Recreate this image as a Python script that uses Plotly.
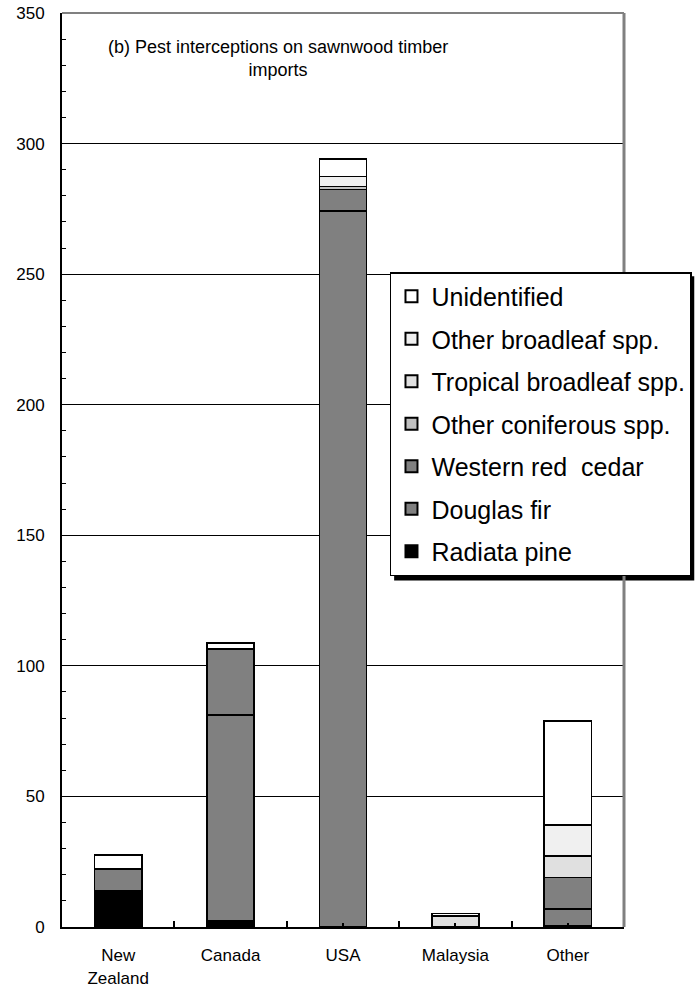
import plotly.graph_objects as go

categories = ["New<br>Zealand", "Canada", "USA", "Malaysia", "Other"]

series_names = ["Radiata pine", "Douglas fir", "Western red  cedar",
                "Other coniferous spp.", "Tropical broadleaf spp.",
                "Other broadleaf spp.", "Unidentified"]

radiata_pine = [13.8, 2.3, 0, 0, 0.6]
douglas_fir = [8.4, 78.9, 274.2, 0, 6.2]
western_red_cedar = [0, 25.3, 8.3, 0, 12.1]
other_coniferous = [0, 0, 1.0, 0, 0]
tropical_broadleaf = [0, 0, 0, 4.2, 8.3]
other_broadleaf = [0, 0, 3.8, 0, 11.9]
unidentified = [5.4, 2.3, 6.7, 1.0, 39.8]

series_values = [radiata_pine, douglas_fir, western_red_cedar, other_coniferous,
                 tropical_broadleaf, other_broadleaf, unidentified]
series_colors = ["#000000", "#808080", "#808080", "#c0c0c0", "#e0e0e0", "#f0f0f0", "#ffffff"]

y_ticks = [0, 50, 100, 150, 200, 250, 300, 350]

fig = go.Figure()
n = len(series_names)
for i, (name, vals, col) in enumerate(zip(series_names, series_values, series_colors)):
    fig.add_trace(go.Bar(
        x=categories, y=vals, name=name, legendgroup=name, legendrank=n - i,
        marker=dict(color=col, line=dict(color="black", width=1.5)),
        width=0.42,
    ))

# invisible trace on a helper axis to get small center ticks
fig.add_trace(go.Bar(x=categories, y=[0]*5, xaxis="x2", showlegend=False,
                     hoverinfo="skip", marker=dict(color="rgba(0,0,0,0)")))

fig.update_layout(
    width=700, height=992,
    margin=dict(l=62, r=76, t=13, b=65, autoexpand=False),
    barmode="stack",
    plot_bgcolor="white", paper_bgcolor="white",
    font=dict(family="Liberation Sans, Arial, sans-serif", color="black"),
    showlegend=True,
    legend=dict(
        x=0.5836, y=0.7166, xanchor="left", yanchor="top",
        traceorder="grouped", tracegroupgap=7,
        font=dict(size=25, color="black"),
        bgcolor="white", bordercolor="black", borderwidth=1.5,
        itemsizing="constant",
    ),
    xaxis=dict(
        type="category", range=[-0.5, 4.5],
        showline=True, linecolor="black", linewidth=2,
        ticks="inside", tickson="boundaries", ticklen=6, tickwidth=1.5, tickcolor="black",
        tickfont=dict(size=17), ticklabelstandoff=12, showgrid=False, zeroline=False,
    ),
    xaxis2=dict(
        type="category", range=[-0.5, 4.5], overlaying="x", matches="x",
        side="bottom", anchor="y",
        ticks="inside", ticklen=4, tickwidth=1.5, tickcolor="black",
        showticklabels=False, showgrid=False, showline=False, zeroline=False,
    ),
    yaxis=dict(
        range=[0, 350], tickvals=y_ticks,
        showline=True, linecolor="black", linewidth=2,
        ticks="inside", ticklen=5, tickwidth=1, tickcolor="black",
        minor=dict(dtick=10, ticks="inside", ticklen=4, tickcolor="black", tickwidth=1, showgrid=False),
        showgrid=True, gridcolor="black", gridwidth=1,
        tickfont=dict(size=17), ticklabelstandoff=12, zeroline=False,
        ticklabeloverflow="allow",
    ),
)

# shadow behind legend
fig.add_shape(type="rect", xref="paper", yref="paper",
              x0=0.591, x1=1.125, y0=0.379, y1=0.712,
              fillcolor="black", line=dict(width=0), layer="above")

# gray top & right frame
fig.add_shape(type="line", xref="paper", yref="paper", x0=0, x1=1, y0=1, y1=1,
              line=dict(color="#808080", width=2))
fig.add_shape(type="line", xref="paper", yref="paper", x0=1, x1=1, y0=0, y1=1,
              line=dict(color="#808080", width=3))

fig.add_annotation(
    text="(b) Pest interceptions on sawnwood timber<br>imports",
    xref="paper", yref="paper", x=0.384, y=0.950, yanchor="middle", showarrow=False,
    font=dict(size=18, color="black"), align="center",
)

fig.write_html("out.html", config={"displayModeBar": False},
               post_script="document.body.style.margin='0px';")
